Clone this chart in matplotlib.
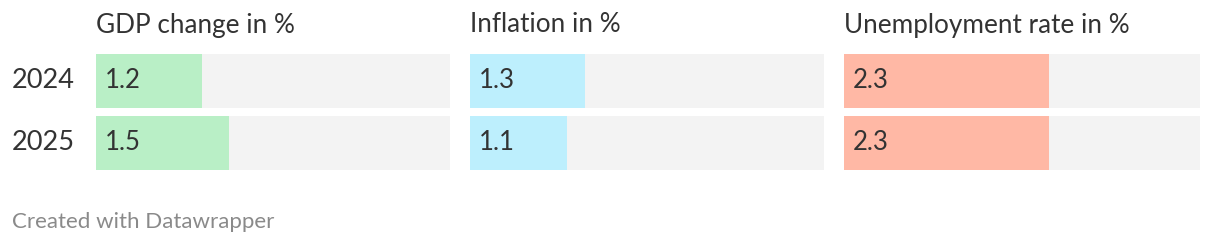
import matplotlib
matplotlib.use("Agg")
import matplotlib.pyplot as plt

plt.rcParams['font.family'] = ['Lato', 'DejaVu Sans']

# data
years = ['2024', '2025']
titles = ['GDP change in %', 'Inflation in %', 'Unemployment rate in %']
gdp = [1.2, 1.5]
inflation = [1.3, 1.1]
unemployment = [2.3, 2.3]
series = [gdp, inflation, unemployment]
colors = ['#b9efc6', '#bdeffd', '#ffb8a5']
x_max = 4.0

W, H = 1220, 248
fig = plt.figure(figsize=(W / 100, H / 100), dpi=100)
fig.patch.set_facecolor('white')

text_col = '#333333'
bg_col = '#f3f3f3'

# panel positions in pixels (left, width)
panels = [(96, 354), (470, 354), (844, 356)]
top, bottom = 54, 170
bar_h = 54 / 62
half = (bottom - top) / 62 / 2

for (left, width), title, vals, col in zip(panels, titles, series, colors):
    ax = fig.add_axes([left / W, 1 - bottom / H, width / W, (bottom - top) / H])
    y = list(range(len(vals)))
    ax.barh(y, [x_max] * len(vals), height=bar_h, color=bg_col, left=0)
    ax.barh(y, vals, height=bar_h, color=col, left=0)
    for yi, v in zip(y, vals):
        ax.text(0.1, yi, f'{v:.1f}', va='center', ha='left',
                fontsize=18.5, color=text_col)
    ax.set_xlim(0, x_max)
    ax.set_ylim(0.5 + half, 0.5 - half)
    ax.axis('off')
    fig.text(left / W, 1 - 25 / H, title, ha='left', va='center',
             fontsize=18.8, color=text_col)

# row labels
for i, yr in enumerate(years):
    yc = top + 27 + i * 62
    fig.text(12 / W, 1 - yc / H, yr, ha='left', va='center',
             fontsize=19.5, color=text_col)

fig.text(12 / W, 1 - 222 / H, 'Created with Datawrapper', ha='left',
         va='center', fontsize=16, color='#8a8a8a')

fig.savefig('out.png', dpi=100)
